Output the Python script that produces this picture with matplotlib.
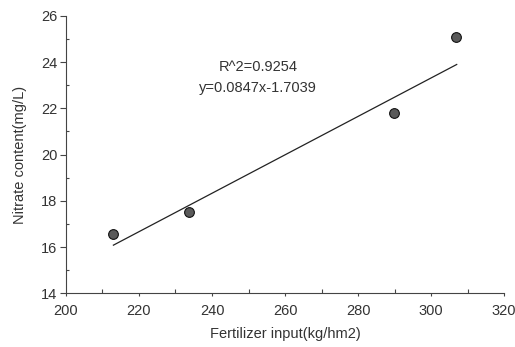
import matplotlib
matplotlib.use("Agg")
from matplotlib import pyplot as plt
from matplotlib.ticker import MultipleLocator

plt.rcParams["font.family"] = ["Liberation Sans", "DejaVu Sans"]

fertilizer = [213.0, 233.6, 289.9, 306.8]
nitrate = [16.58, 17.52, 21.78, 25.09]

# fitted line as drawn in the figure (end points)
fit_x = [213.0, 307.0]
fit_y = [16.08, 23.9]

r2_text = "R^2=0.9254"
eq_text = "y=0.0847x-1.7039"

ink = "#333333"
axis_col = "#444444"

fig = plt.figure(figsize=(5.15, 3.47), dpi=100)
ax = fig.add_axes([0.128, 0.155, 0.851, 0.799])

ax.plot(fit_x, fit_y, color="#222222", lw=0.9)
ax.plot(fertilizer, nitrate, "o", ms=7, mfc="#5a5a5a", mec="#111111", mew=0.8)

ax.text(252.6, 23.79, r2_text, ha="center", va="center", fontsize=10.5, color=ink)
ax.text(252.6, 22.88, eq_text, ha="center", va="center", fontsize=10.5, color=ink)

ax.set_xlim(200, 320)
ax.set_ylim(14, 26)
ax.xaxis.set_major_locator(MultipleLocator(20))
ax.xaxis.set_minor_locator(MultipleLocator(10))
ax.yaxis.set_major_locator(MultipleLocator(2))
ax.yaxis.set_minor_locator(MultipleLocator(1))

for side in ("top", "right"):
    ax.spines[side].set_visible(False)
for side in ("left", "bottom"):
    ax.spines[side].set_color(axis_col)
    ax.spines[side].set_linewidth(0.8)

ax.tick_params(axis="x", which="major", direction="out", length=2.5, width=0.8,
               color=axis_col, labelsize=10.5, labelcolor=ink, pad=5)
ax.tick_params(axis="y", which="major", direction="out", length=4, width=0.8,
               color=axis_col, labelsize=10.5, labelcolor=ink, pad=2)
ax.tick_params(axis="x", which="minor", direction="in", length=3, width=0.8,
               color=axis_col)
ax.tick_params(axis="y", which="minor", direction="in", length=2.5, width=0.8,
               color=axis_col)

ax.set_xlabel("Fertilizer input(kg/hm2)", fontsize=10.5, color=ink, labelpad=7)
ax.set_ylabel("Nitrate content(mg/L)", fontsize=10.5, color=ink, labelpad=10)

fig.savefig("out.png", dpi=100)
